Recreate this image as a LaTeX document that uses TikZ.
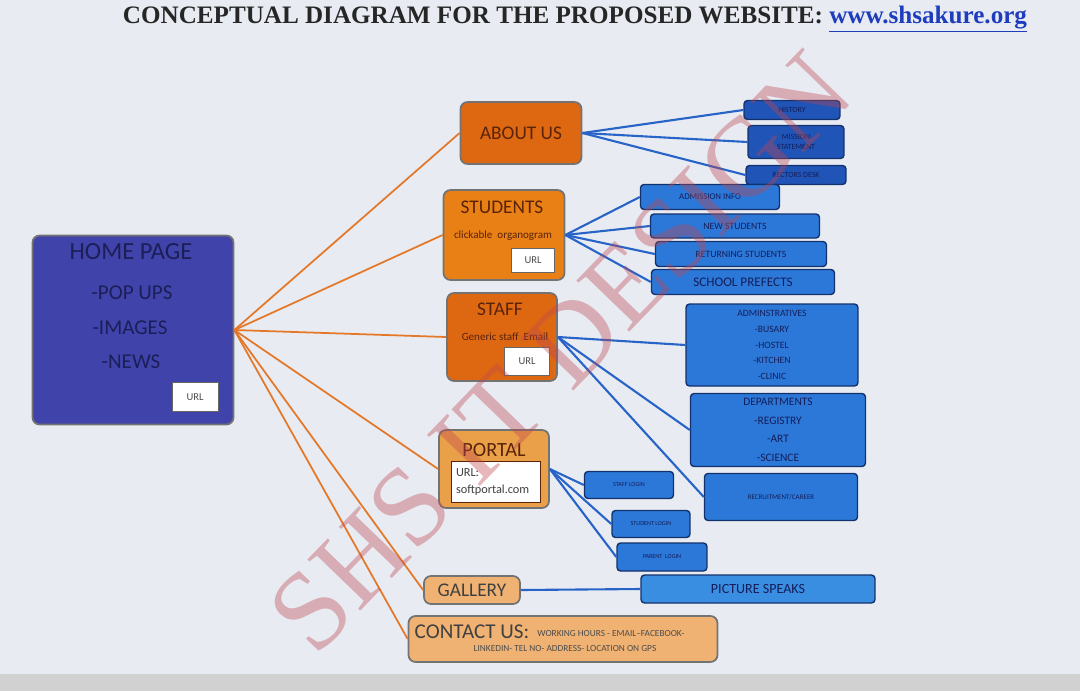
\documentclass[tikz,border=0pt]{standalone}
\usepackage{fontspec}
\setmainfont{Carlito}
\newfontfamily\titlefont{Liberation Serif}
\usetikzlibrary{positioning,calc}
\definecolor{screenBg}{RGB}{232,236,242}
\definecolor{homeBlue}{RGB}{64,68,170}
\definecolor{homeText}{RGB}{28,30,88}
\definecolor{aboutOrange}{RGB}{222,104,18}
\definecolor{studOrange}{RGB}{232,128,22}
\definecolor{portalOrange}{RGB}{234,160,72}
\definecolor{paleOrange}{RGB}{240,178,115}
\definecolor{brownText}{RGB}{90,35,10}
\definecolor{deepBlue}{RGB}{32,84,182}
\definecolor{boxBlue}{RGB}{44,120,216}
\definecolor{skyBlue}{RGB}{58,142,226}
\definecolor{navyText}{RGB}{20,30,90}
\definecolor{lineOrange}{RGB}{228,120,40}
\definecolor{lineBlue}{RGB}{40,100,200}
\definecolor{markRed}{RGB}{190,70,80}
\definecolor{urlBlue}{RGB}{30,60,190}

\tikzset{
  mainbox/.style={rounded corners=4pt, draw=black!55, line width=1pt, inner sep=0pt},
  subbox/.style={rounded corners=2pt, draw=deepBlue!60!black, fill=#1, line width=0.8pt,
    inner sep=1pt, align=center, text=navyText},
  subbox/.default=boxBlue,
  urlbox/.style={draw=black!60, fill=white, inner sep=0pt, font=\fontsize{6}{7}\selectfont, text=black!70},
  orangeline/.style={lineOrange, line width=1pt},
  blueline/.style={lineBlue, line width=1.2pt}
}

\begin{document}
\begin{tikzpicture}[x=0.02cm,y=-0.02cm]
  \useasboundingbox (0,0) rectangle (1080,691);
  \fill[screenBg] (0,0) rectangle (1080,691);
  \fill[black!18] (0,674) rectangle (1080,691);

  % title
  \node[font=\titlefont\bfseries\fontsize{14.3}{16}\selectfont, text=black!85] (title) at (575,19)
    {CONCEPTUAL DIAGRAM FOR THE PROPOSED WEBSITE: \textcolor{urlBlue}{\underline{www.shsakure.org}}};

  % home page
  \node[mainbox, fill=homeBlue, minimum width=4.02cm, minimum height=3.78cm] (home) at (133,330) {};
  \node[font=\fontsize{14}{16}\selectfont, text=homeText] (homeT) at (131,252) {HOME PAGE};
  \node[font=\fontsize{12}{14}\selectfont, text=homeText] (popups) at (132,293) {-POP UPS};
  \node[font=\fontsize{12}{14}\selectfont, text=homeText] (images) at (130,328) {-IMAGES};
  \node[font=\fontsize{12}{14}\selectfont, text=homeText] (news) at (131,362) {-NEWS};
  \node[urlbox, minimum width=0.92cm, minimum height=0.58cm] (homeUrl) at (195,397) {URL};

  % main pages
  \node[mainbox, fill=aboutOrange, minimum width=2.42cm, minimum height=1.24cm,
    font=\fontsize{11}{13}\selectfont, text=brownText] (about) at (521,133) {ABOUT US};

  \node[mainbox, fill=studOrange, minimum width=2.42cm, minimum height=1.8cm] (students) at (504,235) {};
  \node[font=\fontsize{11}{13}\selectfont, text=brownText] (studT) at (502,207) {STUDENTS};
  \node[font=\fontsize{6.3}{7}\selectfont, text=brownText] (organo) at (503,236) {clickable\ \ organogram};
  \node[urlbox, minimum width=0.86cm, minimum height=0.48cm] (studUrl) at (533,260) {URL};

  \node[mainbox, fill=aboutOrange, minimum width=2.2cm, minimum height=1.76cm] (staff) at (502,337) {};
  \node[font=\fontsize{11}{13}\selectfont, text=brownText] (staffT) at (500,309) {STAFF};
  \node[font=\fontsize{6.3}{7}\selectfont, text=brownText] (email) at (505,337) {Generic staff\ \ Email};
  \node[urlbox, minimum width=0.9cm, minimum height=0.56cm] (staffUrl) at (527,361) {URL};

  \node[mainbox, fill=portalOrange, minimum width=2.2cm, minimum height=1.56cm] (portal) at (494,469) {};
  \node[font=\fontsize{11.5}{13}\selectfont, text=brownText] (portalT) at (494,450) {PORTAL};
  \node[draw=brownText, fill=white, minimum width=1.78cm, minimum height=0.82cm, inner sep=2pt,
    align=left, font=\fontsize{7}{10}\selectfont, text=black!75, text width=1.6cm] (portalUrl) at (496,482)
    {URL:\\softportal.com};

  \node[mainbox, fill=paleOrange, minimum width=1.92cm, minimum height=0.56cm,
    font=\fontsize{11}{13}\selectfont, text=black!75] (gallery) at (472,590) {GALLERY};

  \node[mainbox, fill=paleOrange, minimum width=6.18cm, minimum height=0.92cm] (contact) at (563,639) {};
  \node[font=\fontsize{12}{14}\selectfont, text=black!75] (contactT) at (472,632) {CONTACT US:};
  \node[anchor=west, inner sep=0pt, font=\fontsize{5.3}{6}\selectfont, text=black!70] (contactA) at (537,634)
    {WORKING HOURS - EMAIL--FACEBOOK-};
  \node[font=\fontsize{5.3}{6}\selectfont, text=black!70] (contactB) at (565,649)
    {LINKEDIN- TEL NO- ADDRESS- LOCATION ON GPS};

  % sub pages
  \node[subbox=deepBlue, minimum width=1.92cm, minimum height=0.38cm, font=\fontsize{4.5}{5}\selectfont] (hist) at (792,110) {HISTORY};
  \node[subbox=deepBlue, minimum width=1.92cm, minimum height=0.66cm, font=\fontsize{4.5}{6}\selectfont] (mission) at (796,142) {MISSION\\STATEMENT};
  \node[subbox=deepBlue, minimum width=2cm, minimum height=0.38cm, font=\fontsize{4.5}{5}\selectfont] (rector) at (796,175) {RECTORS DESK};

  \node[subbox, minimum width=2.78cm, minimum height=0.5cm, font=\fontsize{5}{6}\selectfont] (admission) at (710,197) {ADMISSION INFO};
  \node[subbox, minimum width=3.38cm, minimum height=0.48cm, font=\fontsize{5.5}{6}\selectfont] (newStud) at (735,226) {NEW STUDENTS};
  \node[subbox, minimum width=3.42cm, minimum height=0.5cm, font=\fontsize{5.5}{6}\selectfont] (retStud) at (741,254) {RETURNING STUDENTS};
  \node[subbox, minimum width=3.66cm, minimum height=0.5cm, font=\fontsize{7.5}{8}\selectfont] (prefects) at (743,282) {SCHOOL PREFECTS};

  \node[subbox, minimum width=3.44cm, minimum height=1.64cm, font=\fontsize{5.5}{9}\selectfont] (admin) at (772,345)
    {ADMINSTRATIVES\\-BUSARY\\-HOSTEL\\-KITCHEN\\-CLINIC};
  \node[subbox, minimum width=3.5cm, minimum height=1.46cm, font=\fontsize{6.5}{10.6}\selectfont] (depts) at (778,430)
    {DEPARTMENTS\\-REGISTRY\\-ART\\-SCIENCE};
  \node[subbox, minimum width=3.06cm, minimum height=0.94cm, font=\fontsize{4}{5}\selectfont] (recruit) at (781,497) {RECRUITMENT/CAREER};

  \node[subbox, minimum width=1.78cm, minimum height=0.54cm, font=\fontsize{3.5}{4}\selectfont] (staffLogin) at (629,485) {STAFF LOGIN};
  \node[subbox, minimum width=1.56cm, minimum height=0.54cm, font=\fontsize{3.5}{4}\selectfont] (studLogin) at (651,524) {STUDENT LOGIN};
  \node[subbox, minimum width=1.8cm, minimum height=0.56cm, font=\fontsize{3.5}{4}\selectfont] (parLogin) at (662,557) {PARENT\ \ LOGIN};

  \node[subbox=skyBlue, minimum width=4.68cm, minimum height=0.56cm, font=\fontsize{8}{9}\selectfont] (picture) at (758,589) {PICTURE SPEAKS};

  % connectors
  \foreach \page in {about,students,staff,portal,gallery,contact}
    \draw[orangeline] (home.east) -- (\page.west);
  \foreach \sub in {hist,mission,rector}
    \draw[blueline] (about.east) -- (\sub.west);
  \foreach \sub in {admission,newStud,retStud,prefects}
    \draw[blueline] (students.east) -- (\sub.west);
  \foreach \sub in {admin,depts,recruit}
    \draw[blueline] (staff.east) -- (\sub.west);
  \foreach \sub in {staffLogin,studLogin,parLogin}
    \draw[blueline] (portal.east) -- (\sub.west);
  \draw[blueline] (gallery.east) -- (picture.west);

  % watermark
  \node[rotate=46, text=markRed, opacity=0.38, font=\titlefont\fontsize{64}{64}\selectfont] (mark) at (560,352) {SHS IT DESIGN};
\end{tikzpicture}
\end{document}
